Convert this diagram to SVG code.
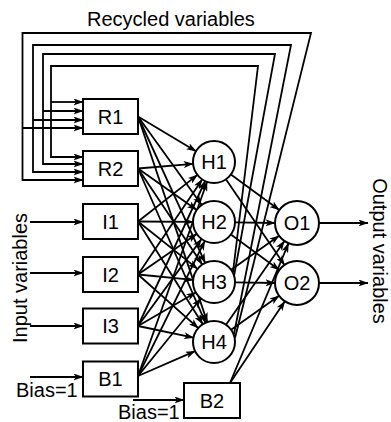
<svg xmlns="http://www.w3.org/2000/svg" width="391" height="422" viewBox="0 0 391 422">
<style>
text{font-family:"Liberation Sans",Arial,sans-serif;font-size:20px;fill:#000}
.n{text-anchor:middle}
.b{fill:#fff;stroke:#000;stroke-width:2}
.c line,.c path{fill:none;stroke:#000;stroke-width:1.8}
.a{marker-end:url(#ah)}
</style>
<defs>
<marker id="ah" viewBox="0 0 10 7" markerWidth="10" markerHeight="7" refX="9.5" refY="3.5" orient="auto" markerUnits="userSpaceOnUse">
<path d="M0,0 L10,3.5 L0,7 L2.5,3.5 z" fill="#000"/>
</marker>
</defs>
<rect width="391" height="422" fill="#fff"/>
<text x="87" y="26">Recycled variables</text>
<text class="n" transform="translate(27,278) rotate(-90)">Input variables</text>
<text class="n" transform="translate(373,251) rotate(90)">Output variables</text>
<text x="16" y="397">Bias=1</text>
<text x="118" y="419">Bias=1</text>
<g class="c" id="connectors">
<path d="M233,272 L258,66 L51,66 L51,157 L83,157" class="a"/>
<line x1="51" y1="102" x2="83" y2="102" class="a"/>
<path d="M234,276 L275,54 L43,54 L43,164 L83,164" class="a"/>
<line x1="43" y1="111" x2="83" y2="111" class="a"/>
<path d="M234,334 L291,45 L33,45 L33,172 L83,172" class="a"/>
<line x1="33" y1="120" x2="83" y2="120" class="a"/>
<path d="M235,338 L311,33 L22.5,33 L22.5,180 L83,180" class="a"/>
<line x1="22.5" y1="128" x2="83" y2="128" class="a"/>
<line x1="30" y1="222" x2="83" y2="222" class="a"/>
<line x1="30" y1="273" x2="83" y2="273" class="a"/>
<line x1="30" y1="326" x2="83" y2="326" class="a"/>
<line x1="30" y1="377" x2="83" y2="377" class="a"/>
<line x1="133" y1="400" x2="184" y2="400" class="a"/>
<line x1="138" y1="116.5" x2="196" y2="151.2" class="a"/>
<line x1="138" y1="116.5" x2="201.7" y2="205" class="a"/>
<line x1="138" y1="116.5" x2="205.2" y2="262.9" class="a"/>
<line x1="138" y1="116.5" x2="207.3" y2="322.1" class="a"/>
<line x1="138" y1="168.5" x2="193.1" y2="163.8" class="a"/>
<line x1="138" y1="168.5" x2="196.8" y2="209.9" class="a"/>
<line x1="138" y1="168.5" x2="202.3" y2="264.5" class="a"/>
<line x1="138" y1="168.5" x2="205.6" y2="322.8" class="a"/>
<line x1="138" y1="221.5" x2="197.5" y2="174.9" class="a"/>
<line x1="138" y1="221.5" x2="193" y2="221.9" class="a"/>
<line x1="138" y1="221.5" x2="197.6" y2="268.9" class="a"/>
<line x1="138" y1="221.5" x2="202.8" y2="324.2" class="a"/>
<line x1="138" y1="274.5" x2="202.2" y2="179.4" class="a"/>
<line x1="138" y1="274.5" x2="196.7" y2="233.9" class="a"/>
<line x1="138" y1="274.5" x2="193.1" y2="279.9" class="a"/>
<line x1="138" y1="274.5" x2="198.3" y2="328.1" class="a"/>
<line x1="138" y1="326" x2="205.2" y2="181" class="a"/>
<line x1="138" y1="326" x2="201.6" y2="238.9" class="a"/>
<line x1="138" y1="326" x2="195.8" y2="292.5" class="a"/>
<line x1="138" y1="326" x2="193.5" y2="337.7" class="a"/>
<line x1="138" y1="376" x2="207.1" y2="181.8" class="a"/>
<line x1="138" y1="376" x2="204.8" y2="240.9" class="a"/>
<line x1="138" y1="376" x2="201" y2="298.5" class="a"/>
<line x1="138" y1="376" x2="195.1" y2="351.2" class="a"/>
<line x1="230.9" y1="174.4" x2="279.3" y2="210" class="a"/>
<line x1="225.9" y1="179.3" x2="284.5" y2="264.9" class="a"/>
<line x1="235" y1="222.3" x2="275" y2="223" class="a"/>
<line x1="230.9" y1="234.4" x2="279.3" y2="270" class="a"/>
<line x1="231.1" y1="269.8" x2="279.1" y2="235.8" class="a"/>
<line x1="235" y1="282.3" x2="275" y2="283" class="a"/>
<line x1="226" y1="324.8" x2="284.4" y2="241" class="a"/>
<line x1="231.1" y1="329.8" x2="279.1" y2="295.8" class="a"/>
<line x1="230" y1="383" x2="288.5" y2="243.3" class="a"/>
<line x1="230" y1="383" x2="284.8" y2="301.3" class="a"/>
<line x1="319" y1="223" x2="368" y2="223" class="a"/>
<line x1="319" y1="283" x2="368" y2="283" class="a"/>
</g>
<g id="R1"><rect class="b" x="83" y="99" width="55" height="35"/><text class="n" x="110.5" y="123.5">R1</text></g>
<g id="R2"><rect class="b" x="83" y="151" width="55" height="35"/><text class="n" x="110.5" y="175.5">R2</text></g>
<g id="I1"><rect class="b" x="83" y="204" width="55" height="35"/><text class="n" x="110.5" y="228.5">I1</text></g>
<g id="I2"><rect class="b" x="83" y="257" width="55" height="35"/><text class="n" x="110.5" y="281.5">I2</text></g>
<g id="I3"><rect class="b" x="83" y="308.5" width="55" height="35"/><text class="n" x="110.5" y="333">I3</text></g>
<g id="B1"><rect class="b" x="83" y="361.5" width="55" height="35"/><text class="n" x="110.5" y="386">B1</text></g>
<g id="B2"><rect class="b" x="184" y="383" width="56" height="35"/><text class="n" x="212" y="407.5">B2</text></g>
<g id="H1"><circle class="b" cx="214" cy="162" r="21"/><text class="n" x="214" y="169">H1</text></g>
<g id="H2"><circle class="b" cx="214" cy="222" r="21"/><text class="n" x="214" y="229">H2</text></g>
<g id="H3"><circle class="b" cx="214" cy="282" r="21"/><text class="n" x="214" y="289">H3</text></g>
<g id="H4"><circle class="b" cx="214" cy="342" r="21"/><text class="n" x="214" y="349">H4</text></g>
<g id="O1"><circle class="b" cx="297" cy="223" r="22"/><text class="n" x="297" y="230">O1</text></g>
<g id="O2"><circle class="b" cx="297" cy="283" r="22"/><text class="n" x="297" y="290">O2</text></g>
</svg>
